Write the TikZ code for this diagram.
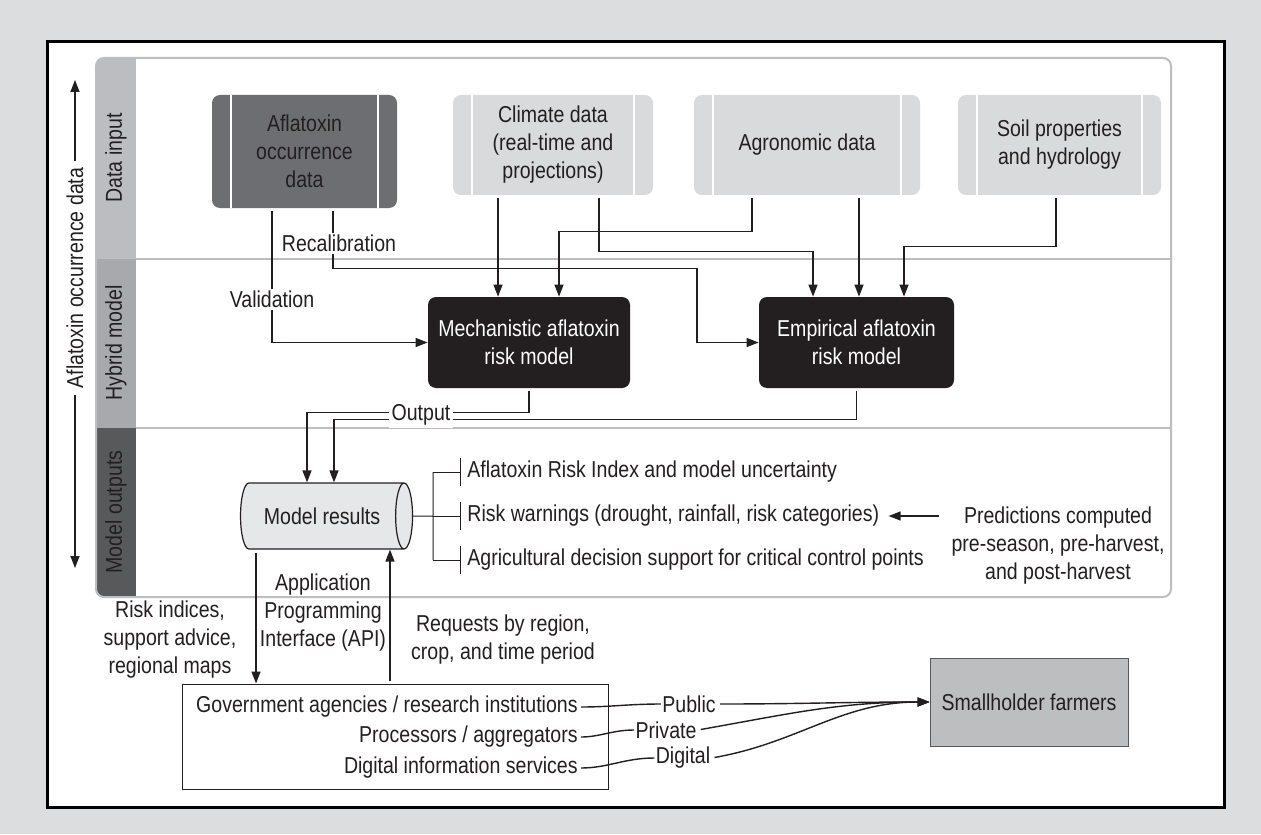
\documentclass[tikz,border=0pt]{standalone}
\usepackage{fontspec}
\setmainfont{Liberation Sans}[FakeStretch=0.85]
\usetikzlibrary{arrows.meta,shapes.geometric}

\definecolor{bggray}{HTML}{DCDDDE}
\definecolor{ink}{HTML}{231F20}
\definecolor{lanegray}{HTML}{BCBEC0}
\definecolor{stripA}{HTML}{BCBDC0}
\definecolor{stripB}{HTML}{A7A9AC}
\definecolor{stripC}{HTML}{58595B}
\definecolor{darkbox}{HTML}{6D6E71}
\definecolor{lightbox}{HTML}{D9DADB}
\definecolor{cylfill}{HTML}{E6E7E8}
\definecolor{farmgray}{HTML}{BCBEC0}

\tikzset{
  databox/.style={rounded corners=4pt, fill=lightbox, text=ink, align=center,
    minimum height=50pt, inner sep=0pt,
    path picture={
      \draw[white,line width=0.8pt] ([xshift=9.5pt]path picture bounding box.north west) -- ([xshift=9.5pt]path picture bounding box.south west);
      \draw[white,line width=0.8pt] ([xshift=-9.5pt]path picture bounding box.north east) -- ([xshift=-9.5pt]path picture bounding box.south east);
    }},
  modelbox/.style={rounded corners=4pt, fill=ink, text=white, align=center, minimum height=45.5pt, inner sep=0pt},
  lanelabel/.style={rotate=90, text=ink},
  arr/.style={-{Triangle[length=6pt,width=4.5pt]}, line width=0.7pt, draw=ink, shorten <=1.5pt},
  link/.style={line width=0.7pt, draw=ink, shorten <=1.5pt},
  lbl/.style={fill=white, inner sep=1pt, text=ink},
  item/.style={anchor=west, inner sep=0pt, text=ink},
  chan/.style={inner sep=0.5pt, text=ink},
  plain/.style={text=ink, align=center}
}

\begin{document}
\begin{tikzpicture}[x=0.5pt,y=-0.5pt,font=\fontsize{11.5}{14}\selectfont]
  % background and frame
  \fill[bggray] (0,0) rectangle (1261,834);
  \draw[line width=1.5pt,fill=white] (47,42) rectangle (1224,807);

  % swim lanes
  \begin{scope}
    \clip[rounded corners=4pt] (96,58) rectangle (1171,597);
    \fill[stripA] (96,58) rectangle (136,259);
    \fill[stripB] (96,259) rectangle (136,428);
    \fill[stripC] (96,428) rectangle (136,597);
  \end{scope}
  \draw[lanegray,line width=1pt,rounded corners=4pt] (96,58) rectangle (1171,597);
  \draw[lanegray,line width=1pt] (136,259) -- (1171,259) (136,428) -- (1171,428);
  \node[lanelabel] (laneinput) at (116,158) {Data input};
  \node[lanelabel] (lanehybrid) at (116,343) {Hybrid model};
  \node[lanelabel] (laneoutput) at (116,512) {Model outputs};

  % left axis
  \node[rotate=90,text=ink,inner sep=3pt] (axis) at (75,278) {Aflatoxin occurrence data};
  \coordinate (axtop) at (75,80);
  \coordinate (axbot) at (75,568);
  \draw[arr,shorten <=0pt] (axis.east) -- (axtop);
  \draw[arr,shorten <=0pt] (axis.west) -- (axbot);

  % data input
  \node[databox,fill=darkbox,minimum width=92.5pt,minimum height=56.5pt] (afla) at (304.5,151.5) {Aflatoxin\\occurrence\\data};
  \node[databox,minimum width=100pt] (climate) at (553,145) {Climate data\\(real-time and\\projections)};
  \node[databox,minimum width=113pt] (agro) at (807,145) {Agronomic data};
  \node[databox,minimum width=101.5pt] (soil) at (1059.5,145) {Soil properties\\and hydrology};

  % hybrid model
  \node[modelbox,minimum width=101pt] (mech) at (529,342.5) {Mechanistic aflatoxin\\risk model};
  \node[modelbox,minimum width=97.5pt] (emp) at (856.5,342.5) {Empirical aflatoxin\\risk model};

  % model outputs
  \node[cylinder,shape aspect=1,draw=ink,line width=0.6pt,fill=cylfill,minimum width=33pt,minimum height=86pt,inner sep=0pt,text=ink] (results) at (322,516) {Model results};
  \node[item] (idx) at (467,472) {Aflatoxin Risk Index and model uncertainty};
  \node[item] (warn) at (467,516) {Risk warnings (drought, rainfall, risk categories)};
  \node[item] (ctrl) at (467,560) {Agricultural decision support for critical control points};
  \node[plain,inner sep=2pt] (pred) at (1058,546) {Predictions computed\\pre-season, pre-harvest,\\and post-harvest};

  % flows into the models
  \draw[arr] ([xshift=-16.25pt]afla.south) |- (mech.west) node[lbl,pos=0.34] {Validation};
  \draw[arr] ([xshift=14.25pt]afla.south) |- node[lbl,pos=0.29,xshift=3pt] {Recalibration} ++(364,60) |- (emp.west);
  \draw[arr] ([xshift=-27.5pt]climate.south) -- ([xshift=-27.5pt]climate.south |- mech.north);
  \draw[arr] ([xshift=23pt]climate.south) -- ++(0,56) -| ([xshift=-21.75pt]emp.north);
  \draw[arr] ([xshift=-27.5pt]agro.south) -- ++(0,36) -| ([xshift=15pt]mech.north);
  \draw[arr] ([xshift=26pt]agro.south) -- ([xshift=26pt]agro.south |- emp.north);
  \draw[arr] ([xshift=-1.75pt]soil.south) -- ++(0,51) -| ([xshift=23.75pt]emp.north);

  % outputs
  \draw[arr] (mech.south) -- ++(0,24) -| ([xshift=-7.5pt]results.north);
  \draw[arr] (emp.south) -- ++(0,31) -| ([xshift=6pt]results.north);
  \node[lbl,inner sep=1.5pt] (output) at (421,415) {Output};

  \coordinate (br) at (433,516);
  \draw[ink,line width=0.5pt] (results.east) -- (br) (br |- idx.west) -- (br |- ctrl.west);
  \foreach \n in {idx,warn,ctrl}{
    \draw[ink,line width=0.5pt] (br |- \n.west) -- ([xshift=-3.5pt]\n.west)
      ([xshift=-3.5pt,yshift=7pt]\n.west) -- ([xshift=-3.5pt,yshift=-7pt]\n.west);
  }
  \draw[arr,shorten <=4pt,shorten >=4.5pt] (pred.west |- warn.east) -- (warn.east);

  % users
  \node[plain] (riskinfo) at (170,640) {Risk indices,\\support advice,\\regional maps};
  \node[plain] (api) at (323,613) {Application\\Programming\\Interface (API)};
  \node[plain] (requests) at (503,640) {Requests by region,\\crop, and time period};
  \node[draw=ink,line width=0.5pt,minimum width=213pt,minimum height=52.5pt] (gov) at (395,736.5) {};
  \node[item,anchor=east] (govA) at (578,707) {Government agencies / research institutions};
  \node[item,anchor=east] (govB) at (578,737) {Processors / aggregators};
  \node[item,anchor=east] (govC) at (578,768) {Digital information services};
  \draw[arr] ([xshift=-33pt]results.south) -- ([xshift=-33pt]results.south |- gov.north);
  \draw[arr] ([xshift=-2.5pt]gov.north) -- ([xshift=-2.5pt]gov.north |- results.south);

  \node[chan] (public) at (689,704) {Public};
  \node[chan] (private) at (666,730) {Private};
  \node[chan] (digital) at (683,758) {Digital};
  \node[fill=farmgray,draw=stripC,line width=0.5pt,minimum width=99pt,minimum height=44pt,text=ink] (farmers) at (1029,702) {Smallholder farmers};
  \draw[link] (govA.east) to[out=0,in=180] (public.west);
  \draw[link] (govB.east) to[out=0,in=180] (private.west);
  \draw[link] (govC.east) to[out=0,in=180] (digital.west);
  \draw[arr] (public.east) to[out=0,in=180] (farmers.west);
  \draw[arr] (private.east) to[out=10,in=180] (farmers.west);
  \draw[arr] (digital.east) to[out=10,in=180] (farmers.west);
\end{tikzpicture}
\end{document}
